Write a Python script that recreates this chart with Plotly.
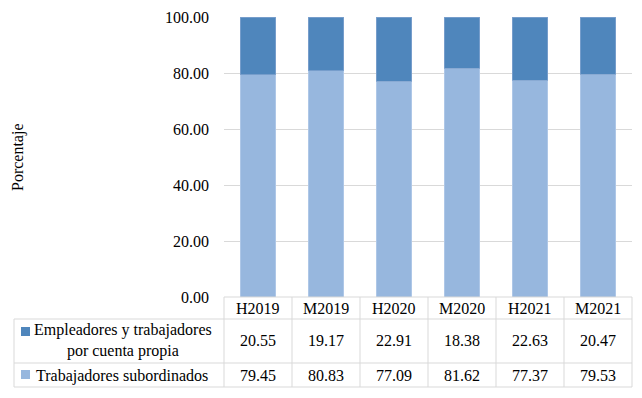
import plotly.graph_objects as go

categories = ["H2019", "M2019", "H2020", "M2020", "H2021", "M2021"]
empleadores = [20.55, 19.17, 22.91, 18.38, 22.63, 20.47]
subordinados = [79.45, 80.83, 77.09, 81.62, 77.37, 79.53]
series_names = ["Empleadores y trabajadores<br>por cuenta propia", "Trabajadores subordinados"]
y_ticks = [0, 20, 40, 60, 80, 100]

DARK = "#4F86BC"
LIGHT = "#97B7DE"
GRID = "#D9D9D9"
FONT = "Liberation Serif"
OFF = 8  # page body margin
W, H = 642 - OFF, 398 - OFF
L, R, T, B = 224 - OFF, 632 - OFF, 17 - OFF, 297 - OFF  # plot area in figure pixels

def px(xp):
    return (xp - OFF - L) / (R - L)

def py(yp):
    return (B - (yp - OFF)) / (B - T)

fig = go.Figure()
fig.add_trace(go.Bar(x=categories, y=subordinados, name="Trabajadores subordinados",
                     marker=dict(color=LIGHT, line=dict(color="#B4CBE8", width=0.8))))
fig.add_trace(go.Bar(x=categories, y=empleadores, name="Empleadores y trabajadores por cuenta propia",
                     marker=dict(color=DARK, line=dict(color="#7FA3CE", width=0.8))))

shapes = []
line = dict(color=GRID, width=1)
for yp, x0 in [(297, 224), (319, 14), (363, 14), (387, 14)]:
    shapes.append(dict(type="line", xref="paper", yref="paper", x0=px(x0), x1=px(632),
                       y0=py(yp), y1=py(yp), line=line))
shapes.append(dict(type="line", xref="paper", yref="paper", x0=px(14), x1=px(14),
                   y0=py(319), y1=py(387), line=line))
for i in range(len(categories) + 1):
    xp = 224 + i * (632 - 224) / len(categories)
    shapes.append(dict(type="line", xref="paper", yref="paper", x0=px(xp), x1=px(xp),
                       y0=py(297), y1=py(387), line=line))
shapes.append(dict(type="rect", xref="paper", yref="paper", x0=px(21), x1=px(30),
                   y0=py(336), y1=py(327), fillcolor=DARK, line=dict(width=0)))
shapes.append(dict(type="rect", xref="paper", yref="paper", x0=px(21), x1=px(30),
                   y0=py(379), y1=py(370), fillcolor=LIGHT, line=dict(width=0)))

ann = []
fsize = 16
tf = dict(family=FONT, size=fsize, color="black")
for i, c in enumerate(categories):
    ann.append(dict(x=c, y=py(308.5), xref="x", yref="paper", text=c, showarrow=False,
                    font=tf, yanchor="middle"))
    ann.append(dict(x=c, y=py(341), xref="x", yref="paper", text=f"{empleadores[i]:.2f}",
                    showarrow=False, font=tf, yanchor="middle"))
    ann.append(dict(x=c, y=py(375.5), xref="x", yref="paper", text=f"{subordinados[i]:.2f}",
                    showarrow=False, font=tf, yanchor="middle"))
ann.append(dict(x=px(123), y=py(341), xref="paper", yref="paper", text=series_names[0],
                showarrow=False, font=tf, yanchor="middle", xanchor="center", align="center"))
ann.append(dict(x=px(121.5), y=py(375.5), xref="paper", yref="paper", text=series_names[1],
                showarrow=False, font=tf, yanchor="middle", xanchor="center"))
ann.append(dict(x=px(18), y=py(157), xref="paper", yref="paper", text="Porcentaje",
                showarrow=False, textangle=-90, font=tf, yanchor="middle", xanchor="center"))

fig.update_layout(
    width=W, height=H,
    margin=dict(l=L, r=W - R, t=T, b=H - B, pad=0),
    barmode="stack", bargap=0.485,
    plot_bgcolor="white", paper_bgcolor="white",
    showlegend=False,
    font=dict(family=FONT, color="black"),
    shapes=shapes, annotations=ann,
    xaxis=dict(showticklabels=False, showgrid=False, zeroline=False, showline=False, ticks="",
               automargin=False),
    yaxis=dict(range=[0, 100], tickvals=y_ticks, ticktext=[f"{v:.2f}" for v in y_ticks],
               showgrid=True, gridcolor=GRID, gridwidth=1, zeroline=False, showline=False,
               ticklabelstandoff=14, tickfont=tf, automargin=False),
)
fig.write_html("out.html")
